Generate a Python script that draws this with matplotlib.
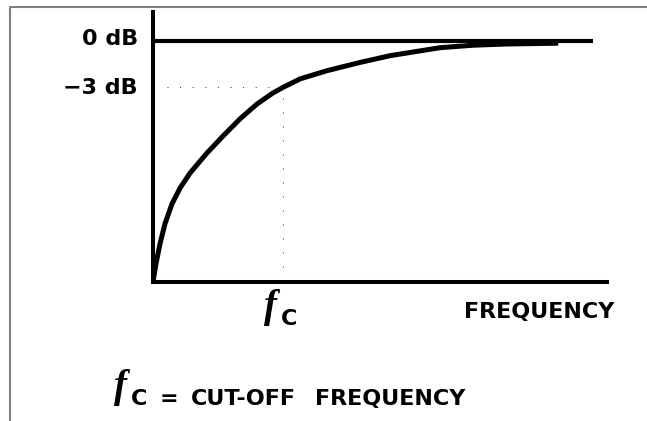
import matplotlib.pyplot as plt
from matplotlib.lines import Line2D

# normalised frequency (f / fc) against response in dB
freq = [0.0, 0.023, 0.054, 0.092, 0.146, 0.208, 0.285, 0.415, 0.538, 0.669, 0.800,
        0.923, 1.0, 1.131, 1.336, 1.592, 1.823, 2.208, 2.462, 2.723, 3.115]
gain_db = [-15.66, -14.47, -13.17, -11.87, -10.58, -9.55, -8.57, -7.27, -6.17, -5.05, -4.08,
           -3.36, -3.0, -2.45, -1.92, -1.38, -0.94, -0.42, -0.26, -0.18, -0.13]

fc = 1.0
cutoff_db = -3.0
ref_db = 0.0
ref_end = 3.385
x_max = 3.49
y_min, y_max = -15.66, 1.9

W, H = 647, 421
fig = plt.figure(figsize=(W / 100, H / 100), dpi=100)
ax = fig.add_axes([153 / W, (H - 282) / H, (607 - 153) / W, (282 - 12) / H])
ax.set_xlim(0, x_max)
ax.set_ylim(y_min, y_max)
for side in ("top", "right"):
    ax.spines[side].set_visible(False)
for side in ("left", "bottom"):
    ax.spines[side].set_linewidth(2.9)
ax.set_xticks([])
ax.set_yticks([])

# 0 dB reference and the response curve
ax.plot([0, ref_end], [ref_db, ref_db], color="black", lw=3.0, solid_capstyle="butt")
ax.plot(freq, gain_db, color="black", lw=3.6, solid_capstyle="butt", solid_joinstyle="round")

# dotted guides to the -3 dB point
ax.plot([0.108, fc], [cutoff_db, cutoff_db], color="#333333", lw=0.72, ls=(0, (1, 11.6)))
ax.plot([fc, fc], [-14.68, cutoff_db], color="#333333", lw=0.72, ls=(0, (1, 13)))


def px(x, y):
    return x / W, 1 - y / H


bold = dict(family="DejaVu Sans", fontweight="bold", fontsize=16, color="black")
script_f = dict(family="Liberation Serif", fontweight="bold", style="italic",
                fontsize=28, color="black")

fig.text(*px(138, 39), "0 dB", ha="right", va="center", **bold)
fig.text(*px(138, 88), "\u22123 dB", ha="right", va="center", **bold)
fig.text(*px(539, 318), "FREQUENCY", ha="center", va="baseline", **bold)

# fc under the axis
fig.text(*px(264, 317), "f", ha="left", va="baseline", **script_f)
fig.text(*px(281, 325), "C", ha="left", va="baseline", **bold)

# legend line at the bottom
fig.text(*px(114, 397), "f", ha="left", va="baseline", **script_f)
fig.text(*px(131, 405), "C", ha="left", va="baseline", **bold)
fig.text(*px(160, 405), "=", ha="left", va="baseline", **bold)
fig.text(*px(191, 405), "CUT-OFF", ha="left", va="baseline", **bold)
fig.text(*px(390, 405), "FREQUENCY", ha="center", va="baseline", **bold)

# thin grey frame along the top and left edges
fig.add_artist(Line2D([10 / W, 10 / W, 647 / W], [0, 1 - 6.5 / H, 1 - 6.5 / H],
                      color="#808080", lw=1.5))

fig.savefig("out.png", dpi=100)
